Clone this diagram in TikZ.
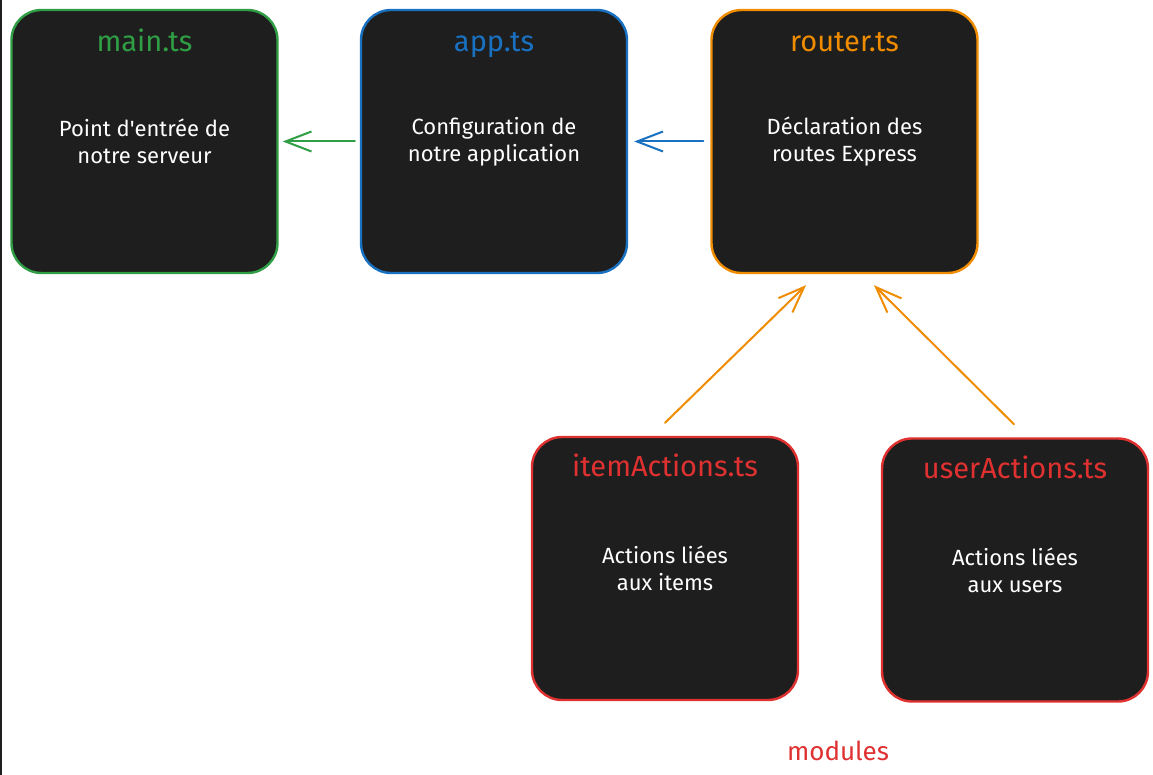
\documentclass[tikz,border=0pt]{standalone}
\usepackage{fontspec}
\setmainfont{Fira Sans}[Ligatures=TeXOff]
\usetikzlibrary{arrows.meta,calc}
\definecolor{exgreen}{HTML}{2F9E44}
\definecolor{exblue}{HTML}{1971C2}
\definecolor{exorange}{HTML}{F08C00}
\definecolor{exred}{HTML}{E03131}
\definecolor{boxfill}{HTML}{1E1E1E}
\tikzset{
  filebox/.style={draw, line width=2.4pt, fill=boxfill, rounded corners=30pt,
    minimum width=266pt, minimum height=263pt, inner sep=0pt},
  filetitle/.style={font=\fontsize{29}{34}\selectfont, inner sep=0pt},
  filebody/.style={font=\fontsize{22}{27}\selectfont, text=white, align=center, inner sep=0pt},
  conn/.style={line width=2pt, line cap=round, -{Straight Barb[length=26pt, width=20pt, line width=2pt]}}
}
\begin{document}
\begin{tikzpicture}[x=1pt,y=-1pt]
\useasboundingbox (0,0) rectangle (1153,775);
\fill[white] (0,0) rectangle (1153,775);
\draw[line width=1.5pt, boxfill] (0.75,0) -- (0.75,775);

\node[filebox, draw=exgreen] (main) at (144.5,141.5) {};
\node[filebox, draw=exblue] (app) at (494,141.5) {};
\node[filebox, draw=exorange] (router) at (844.5,141.5) {};
\node[filebox, draw=exred] (item) at (665,568.5) {};
\node[filebox, draw=exred] (user) at (1015,570) {};

\node[filetitle, text=exgreen, anchor=base] (mainT) at ($(main.north)+(0,43)$) {main.ts};
\node[filetitle, text=exblue, anchor=base] (appT) at ($(app.north)+(0,43)$) {app.ts};
\node[filetitle, text=exorange, anchor=base] (routerT) at ($(router.north)+(0,43)$) {router.ts};
\node[filetitle, text=exred, anchor=base] (itemT) at ($(item.north)+(0,41)$) {itemActions.ts};
\node[filetitle, text=exred, anchor=base] (userT) at ($(user.north)+(0,41)$) {userActions.ts};

\node[filebody] (mainB) at (main.center) {Point d'entrée de\\notre serveur};
\node[filebody] (appB) at (app.center) {Configuration de\\notre application};
\node[filebody] (routerB) at (router.center) {Déclaration des\\routes Express};
\node[filebody] (itemB) at (item.center) {Actions liées\\aux items};
\node[filebody] (userB) at (user.center) {Actions liées\\aux users};

\node[font=\fontsize{26}{30}\selectfont, text=exred, inner sep=0pt, anchor=base] (mods) at (838,760) {modules};

\draw[conn, exgreen, shorten <=5pt, shorten >=4pt] (app.west) -- (main.east);
\draw[conn, exblue, shorten <=7pt, shorten >=6pt] (router.west) -- (app.east);

\coordinate (itemS) at ($(item.north)+(0,-13)$);
\coordinate (itemE) at ($(router.south)+(-38.5,11)$);
\coordinate (userS) at ($(user.north)+(-1,-13)$);
\coordinate (userE) at ($(router.south)+(29.5,11)$);
\draw[conn, exorange] (itemS) -- (itemE);
\draw[conn, exorange] (userS) -- (userE);
\end{tikzpicture}
\end{document}
